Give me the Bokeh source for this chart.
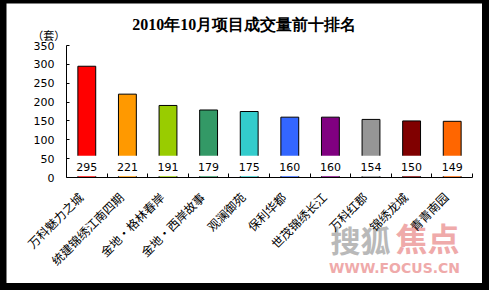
import math
from bokeh.plotting import figure
from bokeh.models import (ColumnDataSource, Range1d, Label, LinearAxis, FixedTicker)
from bokeh.layouts import column
from bokeh.core.properties import value
from bokeh.embed import file_html
from bokeh.resources import INLINE

# October 2010 top-ten projects by units sold
projects = ["万科魅力之城", "统建锦绣江南四期", "金地•格林春岸", "金地•西岸故事", "观澜御苑",
            "保利华都", "世茂锦绣长江", "万科红郡", "锦绣龙城", "青青南园"]
units = [295, 221, 191, 179, 175, 160, 160, 154, 150, 149]
bar_colors = ["#FF0000", "#FF9900", "#99CC00", "#339966", "#33CCCC",
              "#3366FF", "#800080", "#969696", "#800000", "#FF6600"]
y_ticks = [0, 50, 100, 150, 200, 250, 300, 350]

title_text = "2010年10月项目成交量前十排名"
unit_text = "（套）"

CJK = "Noto Sans CJK SC"

# canvas geometry (pixels) -> data ranges, so the plot area spans the whole canvas
W, H = 476, 280
AX_LEFT, AX_RIGHT = 60, 466      # x extent of the category axis
AX_BOTTOM, AX_TOP = 174, 42      # y pixel of value 0 and of value 350
YMAX = 350
n = len(projects)
px_per_cat = (AX_RIGHT - AX_LEFT) / n
px_per_unit = (AX_BOTTOM - AX_TOP) / YMAX
x_range = Range1d(-AX_LEFT / px_per_cat, (W - AX_LEFT) / px_per_cat)
y_range = Range1d(-(H - AX_BOTTOM) / px_per_unit, AX_BOTTOM / px_per_unit)

centers = [i + 0.5 for i in range(n)]
# rotated names hang slightly left of their bar
name_pos = [c - 0.16 for c in centers]

src = ColumnDataSource(dict(
    x=centers,
    units=units,
    color=bar_colors,
    label=[str(v) for v in units],
))

p = figure(
    width=W, height=H,
    x_range=x_range, y_range=y_range,
    x_axis_type=None, y_axis_type=None,
    output_backend="svg",
    toolbar_location=None,
    min_border=0,
)
p.margin = (3, 7, 7, 6)
p.outline_line_color = None
p.background_fill_color = "white"
p.border_fill_color = "white"
p.grid.visible = False

# site watermark, beneath everything else
p.add_layout(Label(x=7.24, y=-162, text="搜狐", text_align="center",
                   text_baseline="middle", text_font=CJK, text_font_style="bold",
                   text_font_size="30px", text_color="#B9B9B9", level="underlay"))
p.add_layout(Label(x=8.89, y=-157, text="焦点", text_align="center",
                   text_baseline="middle", text_font=CJK, text_font_style="bold",
                   text_font_size="32px", text_color="#EFAAAA", level="underlay"))
p.add_layout(Label(x=8.08, y=-239, text="WWW.FOCUS.CN", text_align="center",
                   text_baseline="middle", text_font="DejaVu Sans", text_font_style="bold",
                   text_font_size="14px", text_color="#EFAAAA", level="underlay"))

# bars
p.vbar(x="x", top="units", bottom=0, width=0.44, source=src,
       fill_color="color", line_color="black", line_width=1)

# white value boxes over the bar bases, with the value printed in them
p.vbar(x="x", top=58, bottom=3, width=0.62, source=src,
       fill_color="white", line_color=None)
p.text(x="x", y=29, text="label", source=src,
       text_align="center", text_baseline="middle",
       text_font=value("DejaVu Sans"), text_font_size="11px", text_color="black")

# value axis
ya = LinearAxis(fixed_location=0, bounds=(0, YMAX), ticker=FixedTicker(ticks=y_ticks))
ya.major_tick_in = 3
ya.major_tick_out = 0
ya.minor_tick_line_color = None
ya.axis_line_color = "black"
ya.major_tick_line_color = "black"
ya.major_label_text_font = "DejaVu Sans"
ya.major_label_text_font_size = "11px"
ya.major_label_text_color = "black"
ya.major_label_standoff = 12
p.add_layout(ya, "left")

# category axis: names under each bar
xa = LinearAxis(fixed_location=0, bounds=(0, n), ticker=FixedTicker(ticks=name_pos),
                major_label_overrides={c: name for c, name in zip(name_pos, projects)})
xa.major_tick_line_color = None
xa.minor_tick_line_color = None
xa.axis_line_color = "black"
xa.major_label_orientation = math.pi / 4
xa.major_label_text_font = CJK
xa.major_label_text_font_size = "12px"
xa.major_label_text_color = "black"
xa.major_label_standoff = 11
p.add_layout(xa, "below")

# tick marks on the category boundaries, pointing up
xb = LinearAxis(fixed_location=0, bounds=(0, n),
                ticker=FixedTicker(ticks=list(range(1, n + 1))))
xb.major_tick_in = 4
xb.major_tick_out = 0
xb.minor_tick_line_color = None
xb.major_tick_line_color = "black"
xb.axis_line_color = None
xb.major_label_text_color = None
p.add_layout(xb, "below")

# title and unit
p.add_layout(Label(x=4.38, y=406, text=title_text, text_align="center",
                   text_baseline="middle", text_font="Liberation Serif",
                   text_font_style="bold", text_font_size="16px", text_color="black"))
p.add_layout(Label(x=-0.44, y=379, text=unit_text, text_align="center",
                   text_baseline="middle", text_font=CJK,
                   text_font_size="11px", text_color="black"))

root = column(p, styles={"background-color": "black"}, width=489, height=290)

open("out.html", "w").write(file_html(root, INLINE))
